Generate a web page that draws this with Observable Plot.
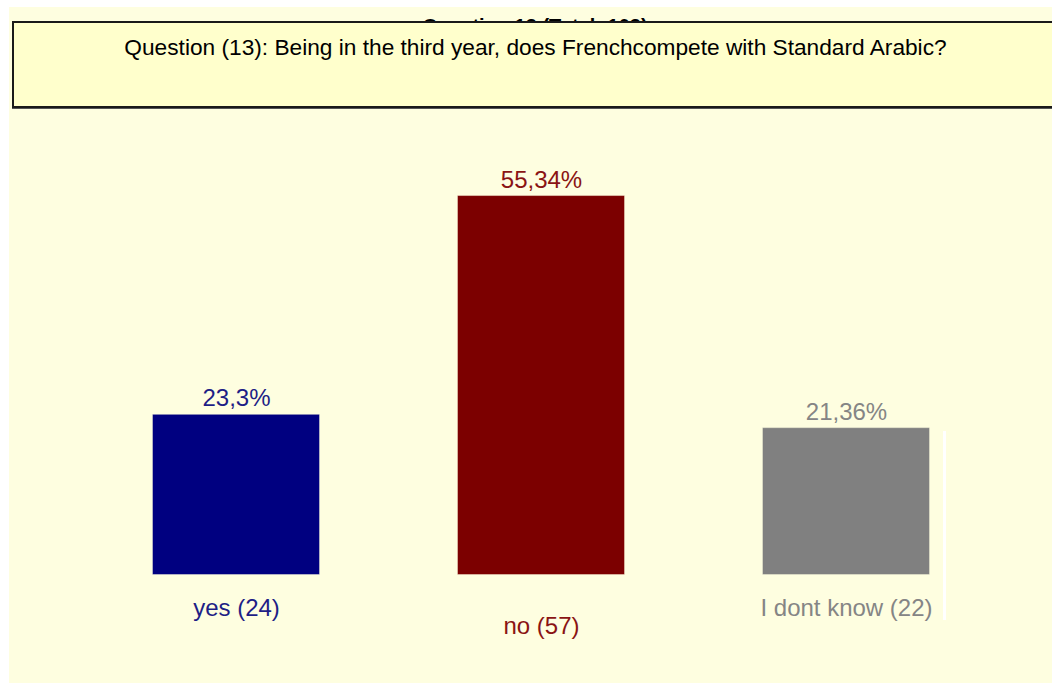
<!DOCTYPE html>
<html>
<head>
<meta charset="utf-8">
<script src="https://cdn.jsdelivr.net/npm/d3@7"></script>
<script src="https://cdn.jsdelivr.net/npm/@observablehq/plot@0.6"></script>
<style>
  html, body { margin: 0; padding: 0; background: #ffffff; width: 1052px; height: 683px; overflow: hidden; }
  #panel { position: absolute; left: 9px; top: 7px; width: 1043px; height: 676px; background: #FEFEE0; }
  #hiddenClip { position: absolute; left: 0; top: 17px; width: 1070px; height: 4px; overflow: hidden; }
  #hiddenTitle { position: absolute; left: 0; width: 1070px; top: -1px; text-align: center;
    font: bold 20px "Liberation Sans", Arial, sans-serif; line-height: 20px; color: #000; }
  #titleBox { position: absolute; left: 12px; top: 21px; width: 1060px; height: 83px;
    border: 2px solid #1a1a1a; background: #FFFFCC; box-shadow: 0 1px 0 #555; }
  #titleText { position: absolute; left: 0; width: 1043px; top: 12px; text-align: center;
    font: 22.7px "Liberation Sans", Arial, sans-serif; color: #000; line-height: 24px; }
  #chart { position: absolute; left: 0; top: 0; }
  #edge { position: absolute; left: 943px; top: 431px; width: 3px; height: 189px; background: #ffffff; }
</style>
</head>
<body>
<div id="panel"></div>
<div id="hiddenClip"><div id="hiddenTitle">Question 13 (Total: 103)</div></div>
<div id="chart"></div>
<div id="edge"></div>
<div id="titleBox"><div id="titleText">Question (13): Being in the third year, does Frenchcompete with Standard Arabic?</div></div>
<script>
const categories = ["yes", "no", "I dont know"];
const counts = [24, 57, 22];
const percents = [23.3, 55.34, 21.36];
const percentLabels = ["23,3%", "55,34%", "21,36%"];
const barColors = ["#000080", "#7C0000", "#808080"];
const textColors = ["#1e1e86", "#8a1414", "#858585"];

const data = categories.map((c, i) => ({
  cat: c,
  count: counts[i],
  pct: percents[i],
  pctLabel: percentLabels[i],
  label: `${c} (${counts[i]})`,
  idx: i
}));

const font = `"Liberation Sans", Arial, sans-serif`;

const chart = Plot.plot({
  width: 1052,
  height: 683,
  margin: 0,
  style: { background: "transparent", fontFamily: font },
  x: { type: "band", domain: categories, range: [153, 929], paddingInner: 0.456, paddingOuter: 0, axis: null },
  y: { domain: [0, 60], range: [574, 164.2], axis: null },
  color: { type: "ordinal", domain: categories, range: barColors },
  marks: [
    Plot.barY(data, { x: "cat", y: "pct", fill: "cat", stroke: "cat", strokeOpacity: 0.6, strokeWidth: 1 }),
    Plot.text(data, {
      x: "cat", y: "pct", text: "pctLabel",
      fill: d => textColors[d.idx],
      fontSize: 24, lineAnchor: "bottom", dy: -9
    }),
    Plot.text(data.filter(d => d.idx % 2 === 0), {
      x: "cat", y: () => 0, text: "label",
      fill: d => textColors[d.idx],
      fontSize: 24, lineAnchor: "middle", dy: 34
    }),
    Plot.text(data.filter(d => d.idx % 2 === 1), {
      x: "cat", y: () => 0, text: "label",
      fill: d => textColors[d.idx],
      fontSize: 24, lineAnchor: "middle", dy: 52
    })
  ]
});
document.getElementById("chart").appendChild(chart);
</script>
</body>
</html>
